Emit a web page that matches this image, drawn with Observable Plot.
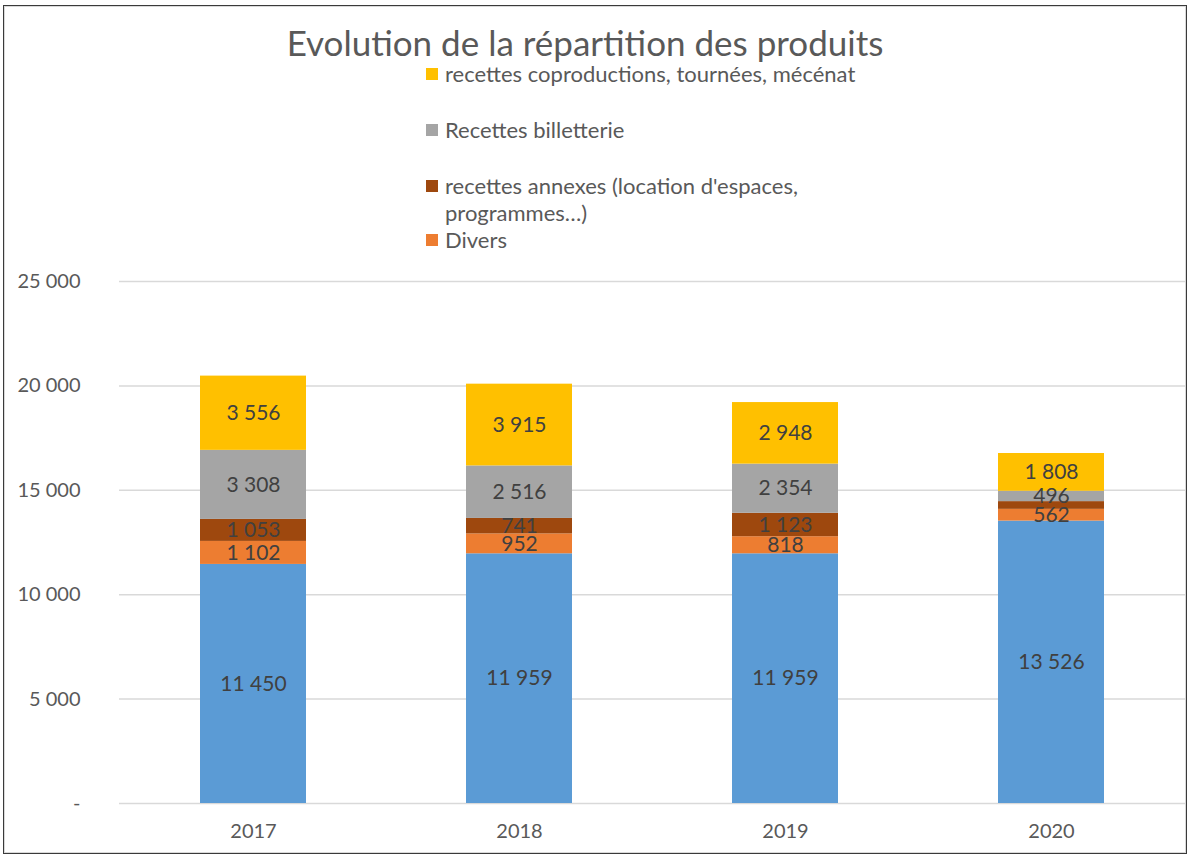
<!DOCTYPE html>
<html><head><meta charset="utf-8">
<script src="https://cdn.jsdelivr.net/npm/d3@7"></script>
<script src="https://cdn.jsdelivr.net/npm/@observablehq/plot@0.6"></script>
<style>
body{margin:0;background:#fff;font-family:Lato,"Open Sans",sans-serif;}
#wrap{position:relative;width:1192px;height:857px;overflow:hidden;}
#frame{position:absolute;left:3px;top:5px;width:1182px;height:847px;border:1px solid #3a3a3a;box-shadow:inset 0 0 0 1px #d9d9d9;pointer-events:none;}
#title{position:absolute;left:0;width:1170px;top:22px;text-align:center;font-size:35px;color:#595959;line-height:40px;}
.leg{position:absolute;left:426px;width:470px;font-size:22px;color:#595959;line-height:27px;}
.leg .sw{position:absolute;left:0;top:8px;width:12px;height:12px;}
.leg .tx{margin-left:19px;display:block;}
#chart{position:absolute;left:0;top:0;}
</style>
</head><body>
<div id="wrap"><div id="chart"></div><div id="title">Evolution de la répartition des produits</div><div id="frame"></div></div>
<script>
const years = ["2017","2018","2019","2020"];
const seriesNames = ["Subventions","Divers","recettes annexes (location d'espaces, programmes…)","Recettes billetterie","recettes coproductions, tournées, mécénat"];
const seriesColors = ["#5b9bd5","#ed7d31","#9e480e","#a5a5a5","#ffc000"];
const subventions = [11450,11959,11959,13526];
const divers = [1102,952,818,562];
const annexes = [1053,741,1123,370];
const billetterie = [3308,2516,2354,496];
const coproductions = [3556,3915,2948,1808];
const showLabels = [
  [true,true,true,true],
  [true,true,true,true],
  [true,true,true,false],
  [true,true,true,true],
  [true,true,true,true]
];
const yTicks = [0,5000,10000,15000,20000,25000];
const legendSeries = [4,3,2,1];
const legendTops = [60,116,172,226];

const values = [subventions,divers,annexes,billetterie,coproductions];
const data = [];
seriesNames.forEach((s,i)=>years.forEach((y,j)=>data.push({year:y,series:s,value:values[i][j],show:showLabels[i][j]})));

const loc = d3.formatLocale({decimal:",",thousands:"\u00a0",grouping:[3],currency:["","€"]});
const fmt = loc.format(",d");

const plot = Plot.plot({
  width:1192,height:857,
  marginTop:281,marginBottom:54,marginLeft:119,marginRight:7,
  style:{fontFamily:"Lato, 'Open Sans', sans-serif",background:"transparent"},
  x:{domain:years,paddingInner:0.6,paddingOuter:0.3,label:null},
  y:{domain:[0,25000],label:null},
  color:{domain:seriesNames,range:seriesColors},
  marks:[
    Plot.gridY(yTicks,{stroke:"#d9d9d9",strokeOpacity:1,strokeWidth:1.5}),
    Plot.barY(data,{x:"year",y:"value",fill:"series"}),
    Plot.text(data,Plot.stackY({x:"year",y:"value",z:"series",text:d=>d.show?fmt(d.value):"",fill:"#404040",fontSize:21})),
    Plot.axisY(yTicks,{tickSize:0,tickPadding:39,fontSize:20,color:"#595959",tickFormat:d=>d===0?"-":fmt(d),label:null}),
    Plot.axisX({tickSize:0,tickPadding:20,fontSize:20,color:"#595959",label:null})
  ]
});
document.getElementById("chart").appendChild(plot);

const wrap = document.getElementById("wrap");
legendSeries.forEach((si,k)=>{
  const d = document.createElement("div");
  d.className="leg";
  d.style.top = legendTops[k]+"px";
  d.innerHTML = `<span class="sw" style="background:${seriesColors[si]}"></span><span class="tx"></span>`;
  d.querySelector(".tx").textContent = seriesNames[si];
  wrap.appendChild(d);
});
</script>
</body></html>
